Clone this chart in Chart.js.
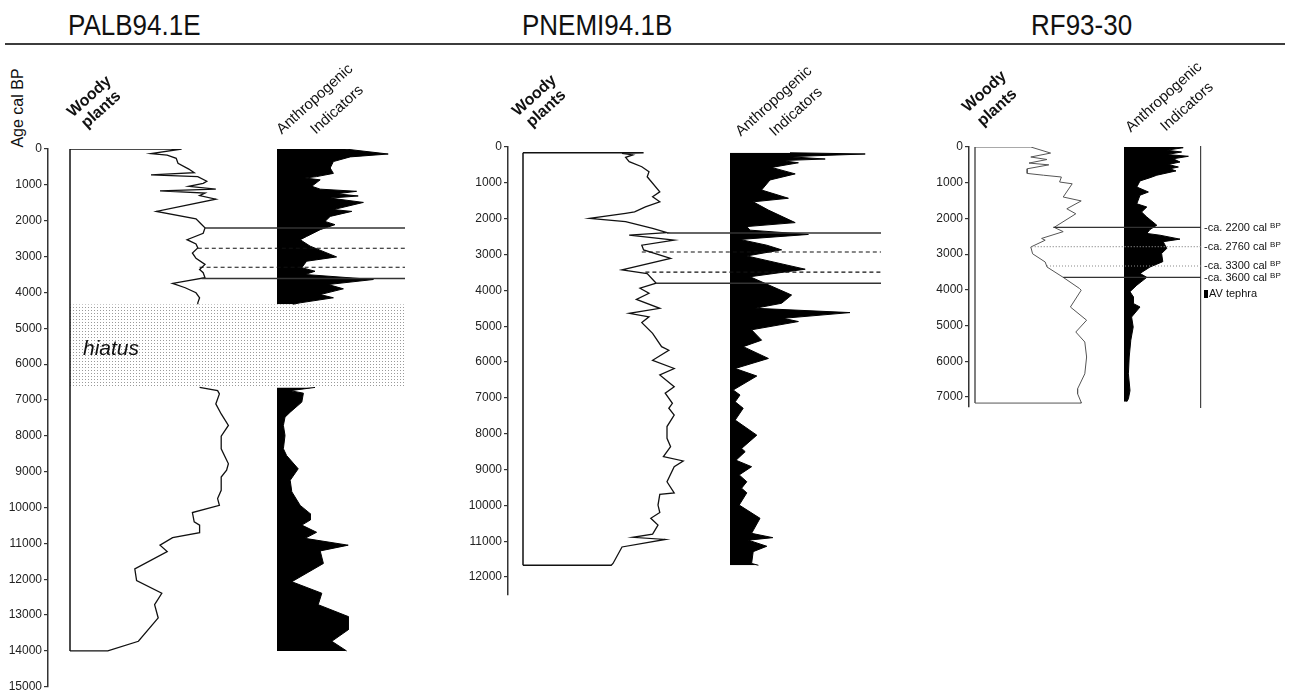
<!DOCTYPE html>
<html lang="en">
<head>
<meta charset="utf-8">
<title>Woody plants and anthropogenic indicators</title>
<script src="https://cdn.jsdelivr.net/npm/chart.js@4.4.1/dist/chart.umd.min.js"></script>
<style>
    html, body { margin: 0; padding: 0; background: #fff; }
    body {
        position: relative; width: 1290px; height: 696px; overflow: hidden;
        font-family: "Liberation Sans", Arial, sans-serif; color: #111;
    }
    canvas { position: absolute; top: 0; }
    .site {
        position: absolute; top: 10px; font-size: 26px; line-height: 1; white-space: nowrap;
        transform: scaleY(1.12); transform-origin: 0 0;
    }
    .rule { position: absolute; left: 5px; top: 43px; width: 1280px; height: 2px; background: #3c3c3c; }
    .rot { position: absolute; line-height: 1; white-space: nowrap; transform-origin: 0 0; transform: rotate(-42deg); }
    .age-title {
        position: absolute; left: 18px; top: 108px; font-size: 16px; line-height: 1; white-space: nowrap;
        transform: translate(-50%, -50%) rotate(-90deg);
    }
    .hiatus { position: absolute; left: 83px; top: 337px; font-size: 21px; font-style: italic; line-height: 1; }
    .evt { position: absolute; left: 1204px; font-size: 11px; line-height: 1; white-space: nowrap; }
    .evt sup { font-size: 8px; vertical-align: 3px; }
    .mark { display: inline-block; width: 4px; height: 8px; background: #000; margin-right: 1px; vertical-align: -1px; }
</style>
</head>
<body>
<div class="site" style="left:68px">PALB94.1E</div>
<div class="site" style="left:522px">PNEMI94.1B</div>
<div class="site" style="left:1031px">RF93-30</div>
<div class="rule"></div>
<div class="age-title">Age cal BP</div>

<canvas id="c-palb" width="430" height="696" style="left:0px"></canvas>
<canvas id="c-pnemi" width="460" height="696" style="left:440px"></canvas>
<canvas id="c-rf" width="390" height="696" style="left:900px"></canvas>

<div class="hiatus">hiatus</div>
<div class="evt" style="top:288px"><span class="mark"></span>AV tephra</div>

<script>
// Ages in cal BP, values in %; null marks the hiatus gap
const palbWoodyAge = [0, 130, 170, 260, 400, 560, 660, 720, 770, 900, 960, 1040, 1120, 1170, 1230, 1300, 1400, 1740, 1950, 2100,
    2200, 2350, 2530, 2650, 2760, 2900, 3050, 3220, 3360, 3450, 3590, 3750, 3870, 4010, 4150, 4290, 4330, 5500,
    6650, 6740, 6830, 7110, 7390, 7710, 8010, 8360, 8780, 8960, 9150, 9520, 9750, 9940, 10140, 10400, 10490,
    10700, 10840, 11050, 11230, 11710, 12040, 12390, 12710, 13080, 13730, 14000];
const palbWoody = [62, 45, 54, 59, 60, 66, 69, 45, 71, 76, 74, 66, 81, 50, 75, 72, 81, 48, 70, 73,
    75, 74, 65, 70, 71, 68, 70, 75, 72, 74, 75, 57, 64, 70, 72, 71, 71, null,
    72, 82, 83, 81, 84, 88, 84, 84, 88, 87, 84, 84, 82, 83, 68, 69, 72,
    72, 57, 50, 54, 36, 37, 51, 47, 49, 38, 21];
const palbAnthroAge = [0, 140, 220, 350, 530, 680, 770, 810, 860, 1040, 1120, 1180, 1250, 1310, 1370, 1490, 1690, 1740, 1880, 2020,
    2110, 2250, 2440, 2530, 2710, 3010, 3130, 3310, 3410, 3500, 3640, 3780, 3900, 4060, 4150, 4290, 4330, 5500,
    6650, 6740, 6810, 7060, 7340, 7480, 7710, 7990, 8360, 8550, 8920, 9240, 9560, 9940, 10170, 10350, 10490,
    10690, 10860, 11050, 11210, 11560, 12070, 12390, 12710, 13040, 13410, 13730, 14000];
const palbAnthro = [17, 27.8, 18.3, 14.1, 13.3, 14.1, 9.9, 7, 10.8, 8.7, 10.8, 19.9, 14.9, 20.3, 13.3, 21.6, 14.1, 18.7, 13.3, 12,
    14.5, 10.8, 7.4, 5.8, 8.3, 14.9, 7.4, 6.2, 9.5, 7, 24.1, 12.8, 16.6, 10.8, 14.1, 5.8, 4, null,
    9.5, 3.3, 6.6, 6.2, 3.3, 2, 1.6, 2, 1.6, 2.4, 5.3, 3.3, 3.7, 5.8, 8.3, 8.3, 6.2,
    9.9, 7, 17.8, 10.8, 11.6, 3.7, 11.2, 10.3, 17.8, 17.8, 13.7, 17.4];
const palbEventAge = [2200, 2770, 3300, 3610];
const palbEventStart = [75, 71, 72, 73];
const palbHiatus = [4330, 6640];
const palbTicks = [0, 1000, 2000, 3000, 4000, 5000, 6000, 7000, 8000, 9000, 10000, 11000, 12000, 13000, 14000, 15000];

const pnemiWoodyAge = [160, 175, 220, 290, 410, 550, 690, 830, 1250, 1390, 1530, 1670, 1810, 1850, 1990, 2080, 2270, 2390, 2460, 2600,
    2740, 2870, 3110, 3430, 3530, 3800, 3940, 4080, 4250, 4500, 4640, 4740, 4900, 5200, 5570, 5670, 5950, 6180, 6360, 6690,
    6870, 7150, 7290, 7480, 7800, 8130, 8360, 8640, 8760, 8920, 9340, 9650, 9690, 9990, 10200, 10360, 10550, 10800, 10890, 10950,
    11160, 11620, 11670];
const pnemiWoody = [67, 55, 61, 57, 59, 66, 70, 69, 76, 72, 76, 68, 62, 57, 37, 57, 72, 80, 59, 84,
    66, 67, 82, 55, 69, 74, 65, 70, 63, 76, 59, 70, 66, 72, 77, 81, 72, 84, 76, 84,
    79, 83, 81, 84, 80, 80, 82, 78, 89, 84, 80, 84, 76, 75, 76, 71, 75, 72, 61, 79,
    55, 50, 49];
const pnemiAnthroAge = [160, 195, 270, 335, 380, 440, 570, 750, 920, 1200, 1430, 1530, 1760, 2110, 2220, 2320, 2440, 2580, 2740, 2870,
    3040, 3410, 3620, 4130, 4360, 4500, 4620, 4780, 4870, 5100, 5390, 5570, 5900, 6180, 6390, 6780, 6920, 7110, 7290, 7620,
    8040, 8410, 8500, 8740, 8920, 9150, 9340, 9520, 9650, 9990, 10360, 10780, 10900, 10970, 11140, 11290, 11620, 11670];
const pnemiAnthro = [15, 33.8, 14.6, 23.8, 12.9, 17.1, 10.4, 16.3, 10, 7.9, 14.6, 5.8, 9.6, 16.3, 4.2, 5, 19.6, 2.5, 9.2, 12.9,
    4.2, 18.8, 5, 15.4, 12.9, 6.3, 30, 13.3, 17.1, 5.4, 7.9, 3.3, 9.6, 1.3, 6.7, 0.8, 2.5, 1.3, 3.3, 1.3,
    6.7, 2.9, 3.8, 1.5, 5.4, 2.3, 4.2, 2.9, 4.2, 2.3, 7.5, 5.4, 10.7, 4.6, 9.2, 5.8, 5.4, 7.1];
const pnemiEventAge = [2400, 2930, 3490, 3800];
const pnemiEventStart = [80, 66, 68, 74];
const pnemiTicks = [0, 1000, 2000, 3000, 4000, 5000, 6000, 7000, 8000, 9000, 10000, 11000, 12000];

const rfWoodyAge = [0, 170, 280, 350, 450, 500, 610, 740, 790, 840, 980, 1030, 1400, 1510, 1730, 1870, 2250, 2370, 2560, 2610,
    2800, 2990, 3220, 3360, 3650, 3960, 4010, 4480, 4850, 5180, 5460, 5880, 6350, 6770, 6910, 7150, 7170];
const rfWoody = [31, 42, 31, 40, 30, 41, 29, 29, 38, 48, 47, 54, 49, 59, 51, 56, 44, 49, 37, 39,
    31, 32, 39, 40, 49, 58, 59, 53, 62, 56, 61, 62, 61, 57, 57, 59, 59];
const rfAnthroAge = [0, 20, 90, 140, 210, 260, 330, 420, 490, 560, 610, 670, 790, 860, 950, 1120, 1260, 1350, 1590, 1680,
    1820, 1960, 2190, 2310, 2420, 2470, 2580, 2650, 2840, 2980, 3210, 3360, 3540, 3650, 3870, 4050, 4190, 4380, 4480, 4760,
    5040, 5410, 5880, 6350, 6820, 7050, 7130];
const rfAnthro = [12.3, 14.8, 10.7, 14.4, 10.7, 16.1, 12.3, 14, 11.1, 13.6, 11.5, 13, 8.2, 6.5, 4, 3.2, 6.1, 4, 3.2, 5.7,
    4.4, 5.7, 8.2, 6.5, 5.7, 9, 14, 9.8, 10.7, 9.4, 9.7, 6.5, 4, 5.7, 3.2, 1.5, 2.3, 2.3, 4, 1.9,
    2.3, 1.7, 1.3, 1.1, 1.5, 1.1, 0.7];
const rfEventAge = [2250, 2790, 3330, 3650];
const rfEventStart = [43.5, 31.5, 40, 49];
const rfEventText = ['ca. 2200 cal', 'ca. 2760 cal', 'ca. 3300 cal', 'ca. 3600 cal'];
const rfTicks = [0, 1000, 2000, 3000, 4000, 5000, 6000, 7000];

// Layout (page pixels)
const W_PX = 1.8;   // px per % woody plants
const A_PX = 4;     // px per % anthropogenic indicators
const FONT = '"Liberation Sans", Arial, sans-serif';

const PANELS = [
    { canvas: 'c-palb', left: 0, width: 430, axisX: 48, right: 410, top: 149, bottom: 689, yMax: 15000,
      woodyZero: 70, anthroZero: 277, lineEnd: 405, thin: false, ticks: palbTicks,
      woodyAge: palbWoodyAge, woody: palbWoody, anthroAge: palbAnthroAge, anthro: palbAnthro,
      eventAge: palbEventAge, eventStart: palbEventStart, hiatus: palbHiatus },
    { canvas: 'c-pnemi', left: 440, width: 460, axisX: 508, right: 885, top: 147, bottom: 595, yMax: 12500,
      woodyZero: 523, anthroZero: 730, lineEnd: 881, thin: false, ticks: pnemiTicks,
      woodyAge: pnemiWoodyAge, woody: pnemiWoody, anthroAge: pnemiAnthroAge, anthro: pnemiAnthro,
      eventAge: pnemiEventAge, eventStart: pnemiEventStart },
    { canvas: 'c-rf', left: 900, width: 390, axisX: 969, right: 1201, top: 147, bottom: 407, yMax: 7280,
      woodyZero: 975, anthroZero: 1124, lineEnd: 1201, thin: true, frameRight: true, ticks: rfTicks,
      woodyAge: rfWoodyAge, woody: rfWoody, anthroAge: rfAnthroAge, anthro: rfAnthro,
      eventAge: rfEventAge, eventStart: rfEventStart, eventText: rfEventText }
];

// Rotated column headers: [text, baseline-start x, y, size, bold]
const HEADERS = [
    ['Woody', 73, 118, 16, true], ['plants', 87, 129, 16, true],
    ['Anthropogenic', 282, 134, 15, false], ['Indicators', 316, 134, 15, false],
    ['Woody', 518, 117, 16, true], ['plants', 532, 128, 16, true],
    ['Anthropogenic', 741, 136, 15, false], ['Indicators', 775, 136, 15, false],
    ['Woody', 968, 113, 16, true], ['plants', 983, 127, 16, true],
    ['Anthropogenic', 1131, 132, 15, false], ['Indicators', 1166, 131, 15, false]
];

Chart.defaults.font.family = FONT;

function pts(ages, vals) {
    return ages.map((a, i) => ({ x: vals[i], y: a }));
}

function dotPattern(ctx) {
    const tile = document.createElement('canvas');
    tile.width = 3; tile.height = 3;
    const g = tile.getContext('2d');
    g.fillStyle = '#fff';
    g.fillRect(0, 0, 3, 3);
    g.fillStyle = '#9a9a9a';
    g.fillRect(1, 1, 1, 1);
    return ctx.createPattern(tile, 'repeat');
}

function buildPanel(p) {
    const cv = document.getElementById(p.canvas);
    const ctx = cv.getContext('2d');
    const endVal = (p.lineEnd - p.woodyZero) / W_PX;
    const first = p.woodyAge[0];
    const last = p.woodyAge[p.woodyAge.length - 1];
    const ink = p.thin ? '#555' : '#111';
    const datasets = [];

    // Event lines (top of the stack)
    p.eventAge.forEach((age, i) => {
        const dashed = i === 1 || i === 2;
        datasets.push({
            xAxisID: 'xw', yAxisID: 'y',
            data: [{ x: p.eventStart[i], y: age }, { x: endVal, y: age }],
            borderColor: dashed ? (p.thin ? '#8a8a8a' : '#111') : '#333',
            borderWidth: dashed ? 1.1 : (p.thin ? 1.2 : 1.5),
            borderDash: dashed ? (p.thin ? [1, 2] : [4, 3]) : [],
            fill: false
        });
    });

    // Anthropogenic indicators, black silhouette
    datasets.push({
        xAxisID: 'xa', yAxisID: 'y',
        data: pts(p.anthroAge, p.anthro),
        borderColor: '#000', borderWidth: 1,
        backgroundColor: '#000', fill: 'origin'
    });

    // Woody plants outline, closed to the baseline at top and bottom
    datasets.push({
        xAxisID: 'xw', yAxisID: 'y',
        data: [{ x: 0, y: first }, ...pts(p.woodyAge, p.woody), { x: 0, y: last }],
        borderColor: ink, borderWidth: p.thin ? 1 : 1.3, fill: false
    });
    datasets.push({
        xAxisID: 'xw', yAxisID: 'y',
        data: [{ x: 0, y: first }, { x: 0, y: last }],
        borderColor: ink, borderWidth: 1.5, fill: false
    });

    if (p.hiatus) {
        datasets.push({
            xAxisID: 'xw', yAxisID: 'y',
            data: [{ x: endVal, y: p.hiatus[0] }, { x: endVal, y: p.hiatus[1] }],
            borderColor: 'rgba(0,0,0,0)', borderWidth: 0,
            backgroundColor: dotPattern(ctx), fill: 'origin'
        });
    }

    const scales = {
        y: {
            type: 'linear', reverse: true, min: 0, max: p.yMax,
            afterFit: s => { s.width = p.axisX - p.left; },
            afterBuildTicks: s => { s.ticks = p.ticks.map(v => ({ value: v })); },
            border: { display: true, color: '#333', width: 1.5 },
            grid: { drawOnChartArea: false, drawTicks: true, tickLength: 4, color: '#333', lineWidth: 1.2 },
            ticks: {
                autoSkip: false, padding: 2,
                color: '#222', font: { size: 12, family: FONT },
                callback: v => String(v)
            }
        },
        xw: { type: 'linear', display: false,
              min: (p.axisX - p.woodyZero) / W_PX, max: (p.right - p.woodyZero) / W_PX },
        xa: { type: 'linear', display: false,
              min: (p.axisX - p.anthroZero) / A_PX, max: (p.right - p.anthroZero) / A_PX }
    };
    if (p.frameRight) {
        scales.yr = {
            type: 'linear', position: 'right', reverse: true, min: 0, max: p.yMax,
            afterFit: s => { s.width = 0; },
            border: { display: true, color: '#444', width: 1.2 },
            grid: { display: false }, ticks: { display: false }
        };
    }

    return new Chart(ctx, {
        type: 'line',
        data: { datasets },
        options: {
            responsive: false,
            animation: false,
            events: [],
            indexAxis: 'y',
            layout: {
                padding: { left: 0, top: p.top, bottom: 696 - p.bottom, right: p.left + p.width - p.right }
            },
            elements: { point: { radius: 0, hoverRadius: 0 }, line: { tension: 0 } },
            plugins: { legend: { display: false }, tooltip: { enabled: false } },
            scales
        }
    });
}

function addHeader([text, bx, by, size, bold]) {
    const el = document.createElement('div');
    el.className = 'rot';
    el.textContent = text;
    el.style.fontSize = size + 'px';
    if (bold) el.style.fontWeight = 'bold';
    // shift so the baseline of the first glyph starts at (bx, by) after the turn
    el.style.left = (bx - 0.57 * size) + 'px';
    el.style.top = (by - 0.63 * size) + 'px';
    document.body.appendChild(el);
}

function addEventLabels(chart, p) {
    p.eventAge.forEach((age, i) => {
        const y = chart.scales.y.getPixelForValue(age);
        const el = document.createElement('div');
        el.className = 'evt';
        el.style.top = (y - 5.5) + 'px';
        el.innerHTML = '-' + p.eventText[i] + ' <sup>BP</sup>';
        document.body.appendChild(el);
    });
}

PANELS.forEach(p => {
    const chart = buildPanel(p);
    if (p.eventText) addEventLabels(chart, p);
});
HEADERS.forEach(addHeader);
</script>
</body>
</html>
